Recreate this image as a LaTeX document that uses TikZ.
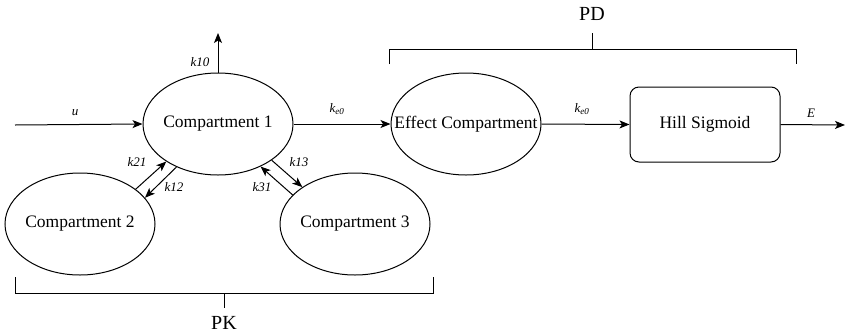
\documentclass[tikz,border=0pt]{standalone}
\usepackage{fontspec}
\setmainfont{Liberation Serif}
\newfontfamily\diagfont{Liberation Serif}
\usetikzlibrary{shapes.geometric,arrows.meta}
\begin{document}
\begin{tikzpicture}[x=1pt,y=-1pt,
  line width=1pt,
  tip/.style={-{Stealth[length=10pt,width=8pt,inset=2.5pt]}},
  comp/.style={ellipse,draw,minimum width=150pt,minimum height=102pt,inner sep=0pt,
    font=\diagfont\fontsize{17.5}{20}\selectfont},
  block/.style={rectangle,rounded corners=9pt,draw,minimum width=150pt,minimum height=75pt,
    font=\diagfont\fontsize{17.5}{20}\selectfont},
  rate/.style={font=\diagfont\fontsize{13}{15}\selectfont\itshape,inner sep=0pt},
  group/.style={font=\diagfont\fontsize{20}{24}\selectfont,inner sep=0pt}]
\useasboundingbox (0,0) rectangle (845,335);

% compartments and effect chain
\node[comp] (c1) at (218,124) {\makebox[0pt]{Compartment 1}};
\node[comp] (c2) at (80,224) {\makebox[0pt]{Compartment 2}};
\node[comp] (c3) at (355,224) {\makebox[0pt]{Compartment 3}};
\node[comp] (eff) at (466,124) {\makebox[0pt]{Effect Compartment}};
\node[block] (hill) at (705,124.5) {Hill Sigmoid};

\coordinate (in) at (15,125);
\coordinate (elim) at (218,33);
\coordinate (out) at (845,125);

% flows
\draw[tip] (in) -- (c1.west);
\draw[tip] (c1.north) -- (elim);
\draw[tip] (c1.east) -- (eff.west);
\draw[tip] (eff.east) -- (hill.west);
\draw[tip] (hill.east) -- (out);

% exchange between the peripheral compartments
\draw[tip] (c2.32) -- (c1.216);
\draw[tip] (c1.226.4) -- (c2.22.6);
\draw[tip] (c1.326.3) -- (c3.145.3);
\draw[tip] (c3.155.7) -- (c1.315);

% rate labels
\node[rate] (lu) at (75,113) {u};
\node[rate] (l10) at (200,62) {k10};
\node[rate] (le1) at (337,109) {k\textsubscript{e0}};
\node[rate] (le2) at (582,109) {k\textsubscript{e0}};
\node[rate] (lE) at (811,113) {E};
\node[rate] (l21) at (137,162) {k21};
\node[rate] (l12) at (174,187) {k12};
\node[rate] (l13) at (299,162) {k13};
\node[rate] (l31) at (262,187) {k31};

% group brackets
\draw (389,64) -- (389,49) -- (796,49) -- (796,64);
\draw (592,49) -- (592,33);
\node[group] (pd) at (592,14) {PD};
\draw (15,277) -- (15,293) -- (433,293) -- (433,277);
\draw (224,293) -- (224,308);
\node[group] (pk) at (224,323) {PK};
\end{tikzpicture}
\end{document}
